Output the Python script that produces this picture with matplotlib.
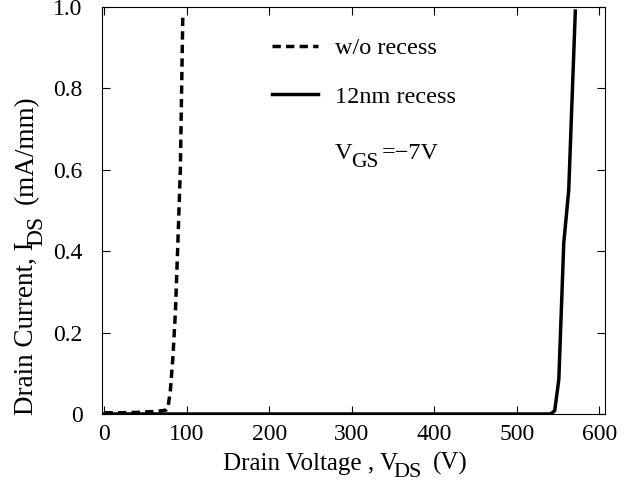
import matplotlib
matplotlib.use("Agg")
import matplotlib.pyplot as plt

plt.rcParams['font.family'] = ['Liberation Serif', 'DejaVu Serif']

# w/o recess (dashed)
vds_norecess = [0, 20, 40, 60, 70, 75, 77, 80, 83, 86, 89, 92, 95]
ids_norecess = [0.003, 0.003, 0.004, 0.006, 0.008, 0.010, 0.015, 0.06, 0.14, 0.25, 0.42, 0.60, 0.98]

# 12nm recess (solid)
vds_recess = [0, 100, 200, 300, 400, 500, 541, 546, 551, 557, 563, 571]
ids_recess = [0.0, 0.0, 0.0, 0.0, 0.0, 0.0, 0.0, 0.008, 0.085, 0.42, 0.55, 0.99]

xticks = [0, 100, 200, 300, 400, 500, 600]
yticks = [0, 0.2, 0.4, 0.6, 0.8, 1.0]
ylabels = ['0', '0.2', '0.4', '0.6', '0.8', '1.0']

W, H = 627, 482
fig = plt.figure(figsize=(W/100, H/100), dpi=100)
ax = fig.add_axes([102/W, 1 - 414/H, (605-102)/W, (414-7)/H])

ax.plot(vds_norecess, ids_norecess, color='black', lw=2.5, dashes=(2.4, 1.5),
        label='w/o recess')
ax.plot(vds_recess, ids_recess, color='black', lw=2.5, label='12nm recess')

ax.set_xlim(-3, 607)
ax.set_ylim(0, 1.0)
ax.set_xticks(xticks)
ax.set_yticks(yticks)
ax.set_yticklabels(ylabels)
ax.tick_params(direction='in', top=True, right=True, labelsize=17, length=6, width=0.8)
ax.tick_params(axis='x', pad=7)
ax.tick_params(axis='y', pad=14)
for s in ax.spines.values():
    s.set_linewidth(0.8)

# x label: Drain Voltage , V_DS (V)
t1 = fig.text(223/W, 1 - 470/H, 'Drain Voltage , V', fontsize=18, ha='left', va='baseline')
t2 = ax.annotate('DS', xy=(1, 0), xycoords=t1, xytext=(-3, -5), textcoords='offset points',
                 fontsize=16, ha='left', va='bottom', annotation_clip=False)
ax.annotate('(V)', xy=(1, 0), xycoords=t2, xytext=(8, 5), textcoords='offset points',
            fontsize=18, ha='left', va='bottom', annotation_clip=False)

# y label: Drain Current, I_DS (mA/mm)
y1 = fig.text(33/W, 1 - 415/H, 'Drain Current, I', fontsize=19.5, rotation=90,
              rotation_mode='anchor', ha='left', va='baseline')
y2 = ax.annotate('DS', xy=(1, 1), xycoords=y1, xytext=(6, -3), textcoords='offset points',
                 fontsize=17, rotation=90, ha='right', va='bottom', annotation_clip=False)
ax.annotate('(mA/mm)', xy=(1, 1), xycoords=y2, xytext=(-6, 8), textcoords='offset points',
            fontsize=19.5, rotation=90, ha='right', va='bottom', annotation_clip=False)

leg = ax.legend(loc='upper left', bbox_to_anchor=(272/W, 1 - 37/H), bbox_transform=fig.transFigure,
                frameon=False, fontsize=17.5, borderpad=0, borderaxespad=0,
                handlelength=1.9, handletextpad=0.7, labelspacing=1.1)

# V_GS = -7V
g1 = fig.text(335/W, 1 - 159/H, 'V', fontsize=17.5, ha='left', va='baseline')
g2 = ax.annotate('GS', xy=(1, 0), xycoords=g1, xytext=(-1, -6), textcoords='offset points',
                 fontsize=15.5, ha='left', va='bottom', annotation_clip=False)
ax.annotate('=\u22127V', xy=(1, 0), xycoords=g2, xytext=(2, 6), textcoords='offset points',
            fontsize=17.5, ha='left', va='bottom', annotation_clip=False)

fig.savefig('out.png', dpi=100)
